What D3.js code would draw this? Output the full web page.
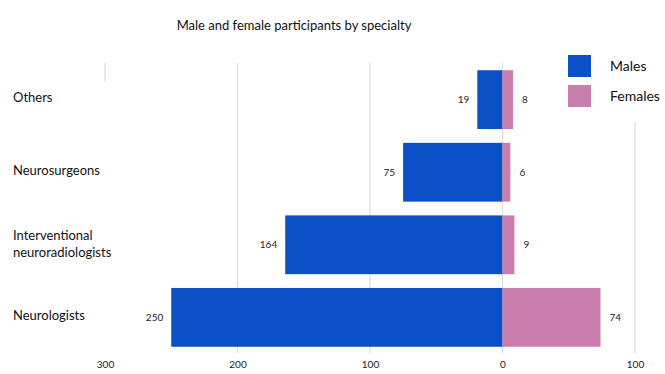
<!DOCTYPE html>
<html>
<head>
<meta charset="utf-8">
<script src="https://cdn.jsdelivr.net/npm/d3@7"></script>
<style>
  body { margin: 0; background: #fff; }
  svg { font-family: Lato, "Open Sans", sans-serif; }
</style>
</head>
<body>
<div id="chart"></div>
<script>
var categories = ["Others", "Neurosurgeons", "Interventional neuroradiologists", "Neurologists"];
var males = [19, 75, 164, 250];
var females = [8, 6, 9, 74];
var tickValues = [-300, -200, -100, 0, 100];

var width = 665, height = 374;

var svg = d3.select("#chart").append("svg")
    .attr("width", width)
    .attr("height", height);

// x: males go left (negative), females right
var x = d3.scaleLinear().domain([-300, 100]).range([105, 635]);
var y = d3.scaleBand().domain(categories).range([63, 354]).paddingInner(0.19).paddingOuter(0.1);

// gridlines
svg.append("g")
    .selectAll("line")
    .data(tickValues)
    .enter()
    .append("line")
    .attr("x1", function(d) { return x(d); })
    .attr("x2", function(d) { return x(d); })
    .attr("y1", function(d) { return d == 100 ? 122 : 63; })
    .attr("y2", function(d) { return d == -300 ? 82 : 353; })
    .attr("stroke", "#dcdcdc")
    .attr("stroke-width", 1.2);

// bars
svg.selectAll(".male")
    .data(categories)
    .enter()
    .append("rect")
    .attr("class", "male")
    .attr("x", function(d, i) { return x(-males[i]); })
    .attr("y", function(d) { return y(d); })
    .attr("width", function(d, i) { return x(0) - x(-males[i]); })
    .attr("height", y.bandwidth())
    .style("fill", "#0b50c6");

svg.selectAll(".female")
    .data(categories)
    .enter()
    .append("rect")
    .attr("class", "female")
    .attr("x", x(0))
    .attr("y", function(d) { return y(d); })
    .attr("width", function(d, i) { return x(females[i]) - x(0); })
    .attr("height", y.bandwidth())
    .style("fill", "#c97fae");

// value labels
svg.selectAll(".mlab")
    .data(categories)
    .enter()
    .append("text")
    .attr("x", function(d, i) { return x(-males[i]) - 8; })
    .attr("y", function(d) { return y(d) + y.bandwidth() / 2; })
    .attr("dy", "0.35em")
    .attr("text-anchor", "end")
    .attr("font-size", "10px")
    .attr("fill", "#222")
    .text(function(d, i) { return males[i]; });

svg.selectAll(".flab")
    .data(categories)
    .enter()
    .append("text")
    .attr("x", function(d, i) { return x(females[i]) + 9; })
    .attr("y", function(d) { return y(d) + y.bandwidth() / 2; })
    .attr("dy", "0.35em")
    .attr("font-size", "10px")
    .attr("fill", "#222")
    .text(function(d, i) { return females[i]; });

// category labels
var cat = svg.selectAll(".cat")
    .data(categories)
    .enter()
    .append("text")
    .attr("x", 13)
    .attr("y", function(d) { return y(d) + y.bandwidth() / 2 - 2; })
    .attr("font-size", "13px")
    .attr("fill", "#111");

cat.each(function(d) {
  var words = d == "Interventional neuroradiologists" ? ["Interventional", "neuroradiologists"] : [d];
  var t = d3.select(this);
  words.forEach(function(w, j) {
    t.append("tspan")
     .attr("x", 13)
     .attr("dy", j == 0 ? (0.35 - (words.length - 1) * 0.6) + "em" : "1.35em")
     .text(w);
  });
});

// x axis
var xAxis = svg.append("g")
    .attr("transform", "translate(0,358)")
    .call(d3.axisBottom(x).tickValues(tickValues).tickSize(0).tickFormat(function(d) { return Math.abs(d); }));
xAxis.select(".domain").remove();
xAxis.selectAll("text")
    .attr("font-family", "Lato, 'Open Sans', sans-serif")
    .attr("font-size", "10px")
    .attr("fill", "#222");

// title
svg.append("text")
    .attr("x", 294)
    .attr("y", 30)
    .attr("text-anchor", "middle")
    .attr("font-size", "13px")
    .attr("fill", "#111")
    .text("Male and female participants by specialty");

// legend
var legend = [{name: "Males", color: "#0b50c6"}, {name: "Females", color: "#c97fae"}];
var lg = svg.selectAll(".legend")
    .data(legend)
    .enter()
    .append("g")
    .attr("transform", function(d, i) { return "translate(568," + (55 + i * 30) + ")"; });
lg.append("rect")
    .attr("width", 23)
    .attr("height", 22)
    .style("fill", function(d) { return d.color; });
lg.append("text")
    .attr("x", 42)
    .attr("y", 11)
    .attr("dy", "0.35em")
    .attr("font-size", "14px")
    .attr("fill", "#111")
    .text(function(d) { return d.name; });
</script>
</body>
</html>
